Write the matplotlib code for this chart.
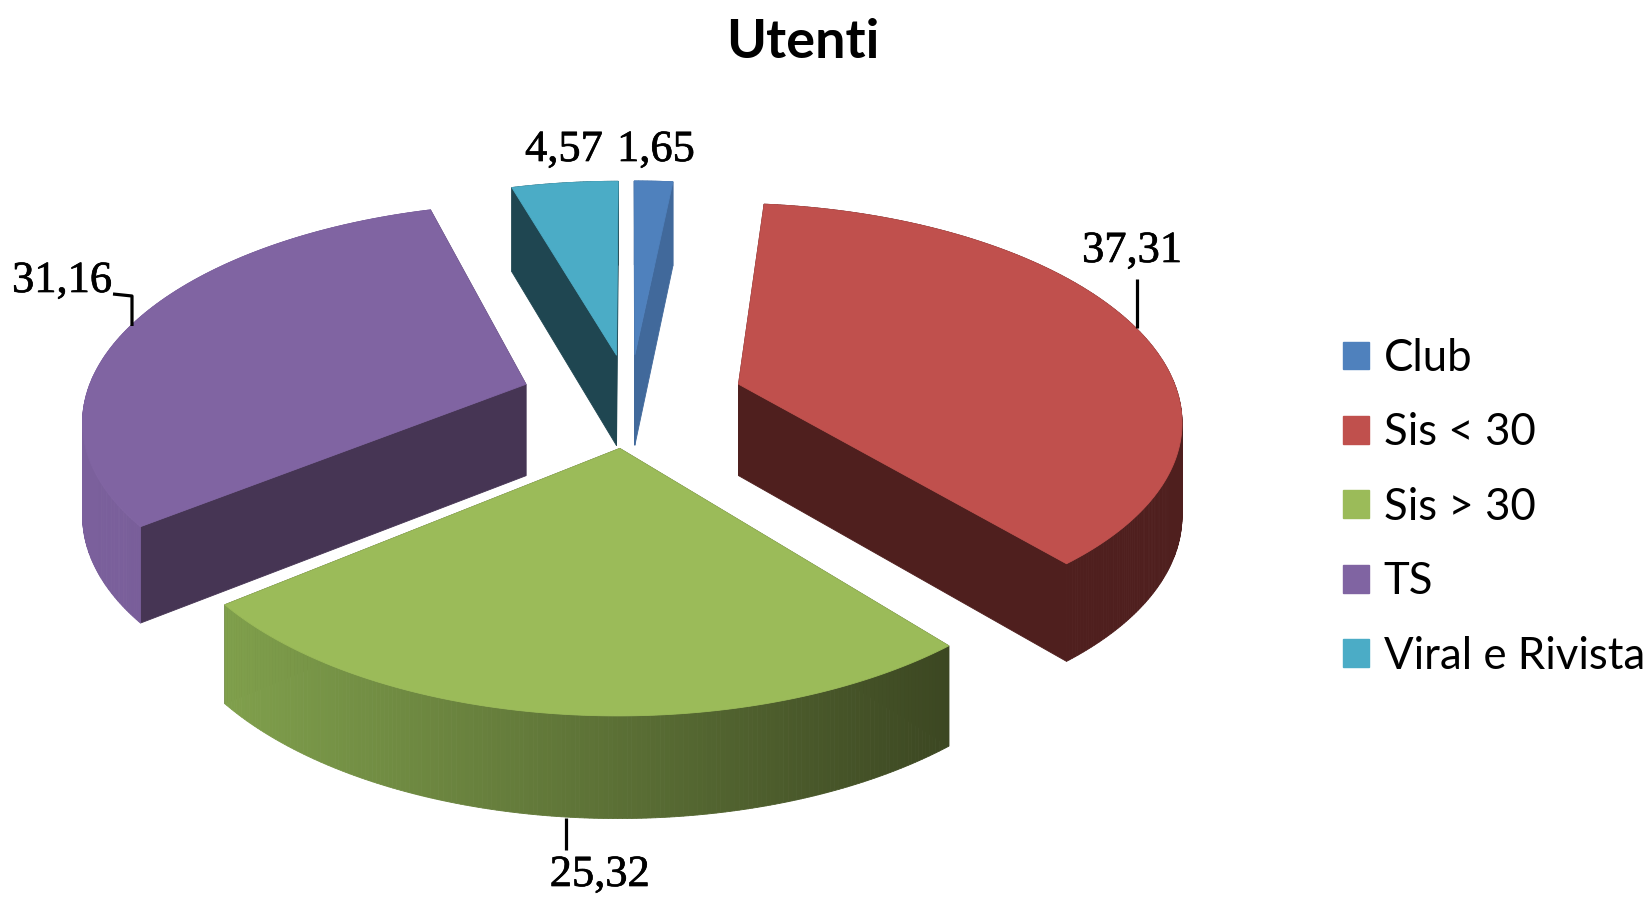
import numpy as np
import matplotlib
matplotlib.use("Agg")
import matplotlib.pyplot as plt
import matplotlib.patheffects as pe
from matplotlib.patches import Polygon, Patch

# --- data ---
categories = ["Club", "Sis < 30", "Sis > 30", "TS", "Viral e Rivista"]
values = [1.65, 37.31, 25.32, 31.16, 4.57]
value_labels = ["1,65", "37,31", "25,32", "31,16", "4,57"]
title = "Utenti"

# --- style ---
top_colors = ["#4F81BD", "#C0504D", "#9BBB59", "#8064A2", "#4BACC6"]
wall_colors = ["#41699B", "#4F1F1E", "#3F4A22", "#463554", "#1F4651"]
rim_left = ["#41699B", "#4F1F1E", "#80A04C", "#7B609C", "#1F4651"]
rim_right = ["#41699B", "#4F1F1E", "#3C4722", "#6F5590", "#1F4651"]
explode = [0.22, 0.26, 0.222, 0.25, 0.22]
draw_order = [0, 4, 3, 1, 2]

# --- projection (pixel space of the figure) ---
CX, CY = 630.0, 400.0
A, B = 441.0, 212.0
K = 0.148
DEPTH = 92.0


def project(x, y, z=0.0):
    w = 1.0 + K * y
    return CX + A * x / w, CY - B * y / w + z * DEPTH / w ** 0.55


def wedge_geometry(start, end, e):
    mid = np.radians((start + end) / 2)
    ox, oy = e * np.sin(mid), e * np.cos(mid)
    t = np.radians(np.linspace(start, end, max(int(end - start) * 2, 8)))
    return ox, oy, ox + np.sin(t), oy + np.cos(t)


fig = plt.figure(figsize=(16.5, 8.99), dpi=100)
ax = fig.add_axes([0, 0, 1, 1])
ax.set_xlim(0, 1650)
ax.set_ylim(899, 0)
ax.axis("off")

shares = np.array(values) / np.sum(values) * 360.0
ends = np.cumsum(shares)
starts = ends - shares


def add_poly(pts, color, zorder):
    ax.add_patch(Polygon(pts, closed=True, facecolor=color, edgecolor=color,
                         lw=0.6, zorder=zorder))


for rank, i in enumerate(draw_order):
    ox, oy, rx, ry = wedge_geometry(starts[i], ends[i], explode[i])
    z0 = 10 * rank
    # radial walls
    for ex, ey in [(rx[0], ry[0]), (rx[-1], ry[-1])]:
        add_poly([project(ox, oy), project(ex, ey), project(ex, ey, 1), project(ox, oy, 1)],
                 wall_colors[i], z0 + 1)
    # outer rim, shaded in bands
    px = np.array([project(a, b)[0] for a, b in zip(rx, ry)])
    span = max(px.max() - px.min(), 1.0)
    c0 = np.array(matplotlib.colors.to_rgb(rim_left[i]))
    c1 = np.array(matplotlib.colors.to_rgb(rim_right[i]))
    for j in range(len(rx) - 1):
        f = ((px[j] + px[j + 1]) / 2 - px.min()) / span
        col = c0 + (c1 - c0) * f
        add_poly([project(rx[j], ry[j]), project(rx[j + 1], ry[j + 1]),
                  project(rx[j + 1], ry[j + 1], 1), project(rx[j], ry[j], 1)],
                 col, z0 + 2)
    # top face
    pts = [project(ox, oy)] + [project(a, b) for a, b in zip(rx, ry)]
    add_poly(pts, top_colors[i], z0 + 3)

# --- value labels and leader lines ---
label_pos = [(656, 150), (1132, 251), (600, 875), (62, 281), (564, 150)]
for (x, y), s in zip(label_pos, value_labels):
    ax.text(x, y, s, ha="center", va="center", fontsize=32, family="Liberation Serif",
            color="black", zorder=100,
            path_effects=[pe.withStroke(linewidth=0.5, foreground="black")])
leaders = [
    ([1137, 1137], [279, 328]),
    ([113, 132, 132], [294, 296, 326]),
    ([566, 566], [818, 850]),
]
for xs, ys in leaders:
    ax.plot(xs, ys, color="black", lw=2.3, zorder=100, solid_capstyle="butt")

ax.text(803, 43, title, ha="center", va="center", fontsize=39, fontweight="bold",
        family="Lato", color="black")

handles = [Patch(facecolor=c, edgecolor=c, label=n) for c, n in zip(top_colors, categories)]
ax.legend(handles=handles, loc="upper left", bbox_to_anchor=(1343, 338),
          bbox_transform=ax.transData, frameon=False, borderpad=0, borderaxespad=0,
          prop={"family": "Lato", "size": 31.5}, handlelength=0.6, handleheight=0.6,
          handletextpad=0.33, labelspacing=0.763)

fig.savefig("out.png", dpi=100, facecolor="white")
